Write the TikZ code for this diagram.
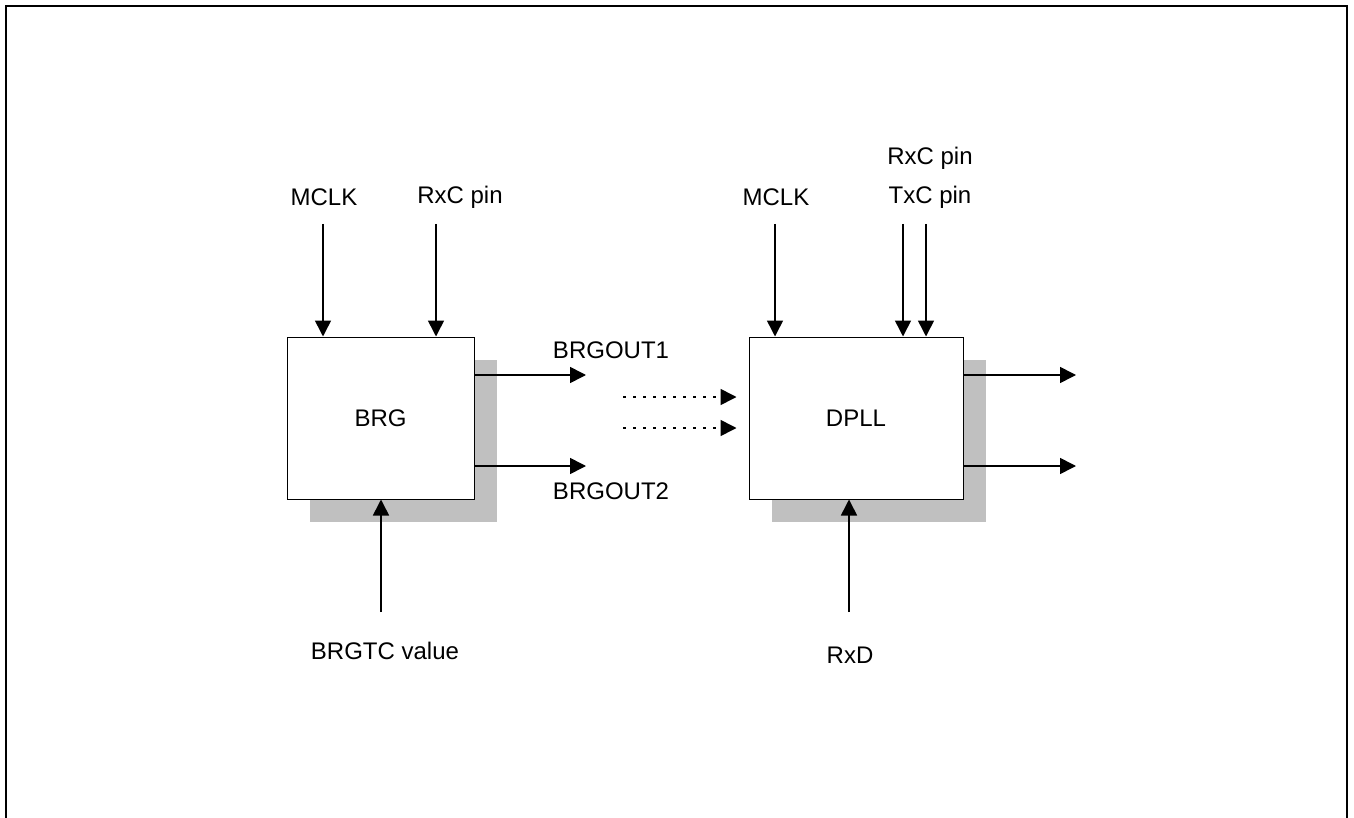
\documentclass[tikz,border=0pt]{standalone}
\usepackage{fontspec}
\setmainfont{Liberation Sans}
\definecolor{shadowgray}{RGB}{192,192,192}
\usetikzlibrary{arrows.meta,shadows,calc}
\tikzset{
  blockbox/.style={draw=black, line width=1pt, fill=white, minimum width=187pt, minimum height=162pt, inner sep=0pt,
    drop shadow={shadow xshift=23pt, shadow yshift=-23pt, fill=shadowgray, opacity=1}},
  lbl/.style={inner sep=0pt, font=\fontsize{24}{28}\selectfont},
  sig/.style={-{Triangle[length=16pt,width=16pt]}, line width=1.6pt},
  dotsig/.style={sig, dash pattern=on 3pt off 7pt}
}

\begin{document}
\begin{tikzpicture}[x=1pt,y=-1pt]
  \useasboundingbox (0,0) rectangle (1354,818);
  % Frame
  \draw[line width=2.2pt] (6,818) -- (6,6) -- (1347,6) -- (1347,818);
  % Blocks
  \node[blockbox, lbl] (brg) at (380.5,418) {BRG};
  \node[blockbox, lbl, minimum width=214pt] (dpll) at (856,418) {DPLL};
  % Input labels
  \node[lbl] (brgmclk) at (324,197) {MCLK};
  \node[lbl] (brgrxc) at (460,197) {RxC pin};
  \node[lbl] (dpllmclk) at (776,197) {MCLK};
  \node[lbl] (dpllrxc) at (930,158) {RxC pin};
  \node[lbl] (dplltxc) at (930,197) {TxC pin};
  \node[lbl] (brgtc) at (385,651) {BRGTC value};
  \node[lbl] (rxd) at (850,655) {RxD};
  \node[lbl] (brgout1) at (611,350) {BRGOUT1};
  \node[lbl] (brgout2) at (611,491) {BRGOUT2};
  % Arrow ends
  \coordinate (brgclkin) at (323,224);
  \coordinate (brgrxcin) at (436,224);
  \coordinate (dpllclkin) at (775,224);
  \coordinate (dpllrxcin) at (903,224);
  \coordinate (dplltxcin) at (926,224);
  \coordinate (brgtcin) at (381,612);
  \coordinate (rxdin) at (849,612);
  \coordinate (brgo1) at (586,375);
  \coordinate (brgo2) at (586,466);
  \coordinate (dot1) at (623,397);
  \coordinate (dot2) at (623,428);
  \coordinate (dpllo1) at (1076,375);
  \coordinate (dpllo2) at (1076,466);
  % Inputs from above
  \draw[sig] (brgclkin) -- (brgclkin |- brg.north);
  \draw[sig] (brgrxcin) -- (brgrxcin |- brg.north);
  \draw[sig] (dpllclkin) -- (dpllclkin |- dpll.north);
  \draw[sig] (dpllrxcin) -- (dpllrxcin |- dpll.north);
  \draw[sig] (dplltxcin) -- (dplltxcin |- dpll.north);
  % Inputs from below
  \draw[sig] (brgtcin) -- (brgtcin |- brg.south);
  \draw[sig] (rxdin) -- (rxdin |- dpll.south);
  % Outputs
  \draw[sig] (brgo1 -| brg.east) -- (brgo1);
  \draw[sig] (brgo2 -| brg.east) -- (brgo2);
  \draw[sig] (dpllo1 -| dpll.east) -- (dpllo1);
  \draw[sig] (dpllo2 -| dpll.east) -- (dpllo2);
  % Dotted links
  \draw[dotsig, shorten >=12pt] (dot1) -- (dot1 -| dpll.west);
  \draw[dotsig, shorten >=12pt] (dot2) -- (dot2 -| dpll.west);
\end{tikzpicture}
\end{document}
